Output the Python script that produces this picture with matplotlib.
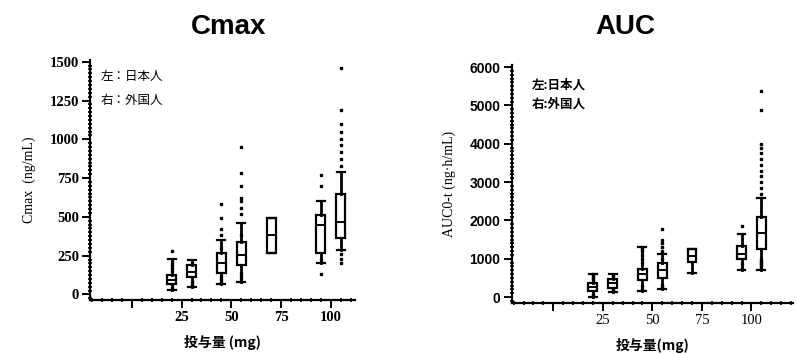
import matplotlib
matplotlib.use("Agg")
import matplotlib.pyplot as plt
from matplotlib.ticker import MultipleLocator, FixedLocator

# Dose positions (Japanese left, foreign right of each nominal dose)
doses = [20, 30, 45, 55, 70, 95, 105]
x_ticks = [0, 25, 50, 75, 100]
x_tick_labels = ["", "25", "50", "75", "100"]

# Cmax (ng/mL) box statistics
cmax_q1 = [65, 110, 140, 190, 270, 270, 365]
cmax_med = [95, 145, 205, 255, 380, 445, 470]
cmax_q3 = [125, 190, 265, 340, 490, 510, 650]
cmax_lo = [30, 50, 70, 80, 270, 200, 285]
cmax_hi = [230, 220, 350, 460, 490, 600, 790]
cmax_pts = [
    [40, 60, 150, 170, 190, 210, 280],
    [60, 80, 200],
    [80, 100, 120, 300, 380, 420, 490, 580],
    [100, 120, 140, 380, 520, 560, 600, 620, 700, 780, 950],
    [],
    [130, 220, 700, 770],
    [200, 230, 260, 830, 870, 920, 960, 1000, 1050, 1100, 1190, 1460],
]

# AUC0-t (ng.h/mL) box statistics
auc_q1 = [150, 230, 440, 510, 910, 1000, 1260]
auc_med = [260, 355, 610, 700, 1080, 1130, 1660]
auc_q3 = [380, 480, 740, 880, 1250, 1340, 2090]
auc_lo = [0, 120, 150, 220, 640, 700, 700]
auc_hi = [600, 600, 1300, 1130, 1250, 1640, 2590]
auc_pts = [
    [30, 80, 450, 500, 550, 600],
    [150, 200, 550],
    [200, 280, 900, 1000, 1100, 1200, 1250, 1300],
    [250, 320, 1000, 1200, 1300, 1400, 1500, 1780],
    [],
    [750, 850, 1850],
    [750, 800, 850, 900, 950, 1000, 2700, 2850, 3000, 3150, 3300, 3450,
     3600, 3750, 3900, 4000, 4870, 5380],
]

JP = ["Noto Sans CJK JP", "DejaVu Sans"]
SERIF = ["Liberation Serif", "Noto Sans CJK JP"]


def make_stats(q1, med, q3, lo, hi, pts):
    stats = []
    for i in range(len(q1)):
        stats.append({"q1": q1[i], "med": med[i], "q3": q3[i],
                      "whislo": lo[i], "whishi": hi[i], "fliers": pts[i]})
    return stats


def draw_panel(ax, stats, ylim, ymajor, yminor, xlim):
    ax.bxp(stats, positions=doses, widths=4.5, patch_artist=True,
           boxprops=dict(facecolor="white", edgecolor="black", linewidth=1.6),
           medianprops=dict(color="black", linewidth=1.4),
           whiskerprops=dict(color="black", linewidth=2.0),
           capprops=dict(color="black", linewidth=1.6),
           flierprops=dict(marker="s", markersize=1.8, markerfacecolor="black",
                           markeredgecolor="black", linestyle="none"),
           capwidths=4.0, manage_ticks=False)
    ax.set_xlim(*xlim)
    ax.set_ylim(*ylim)
    ax.spines["top"].set_visible(False)
    ax.spines["right"].set_visible(False)
    ax.spines["left"].set_linewidth(1.6)
    ax.spines["bottom"].set_linewidth(1.6)
    ax.xaxis.set_major_locator(FixedLocator(x_ticks))
    ax.set_xticklabels(x_tick_labels)
    ax.xaxis.set_minor_locator(MultipleLocator(5))
    ax.yaxis.set_major_locator(MultipleLocator(ymajor))
    ax.yaxis.set_minor_locator(MultipleLocator(yminor))
    ax.tick_params(axis="both", which="major", length=6, width=1.4,
                   direction="out", pad=2)
    ax.tick_params(axis="both", which="minor", length=2.5, width=1.2,
                   direction="inout")
    ax.set_facecolor("white")


fig = plt.figure(figsize=(7.97, 3.54), dpi=100)

# ---- Cmax ----
ax1 = fig.add_axes([0.113, 0.153, 0.332, 0.677])
draw_panel(ax1, make_stats(cmax_q1, cmax_med, cmax_q3, cmax_lo, cmax_hi,
                           cmax_pts),
           (-35, 1510), 250, 25, (-21, 112))
ax1.set_yticks([0, 250, 500, 750, 1000, 1250, 1500])
for lab in ax1.get_yticklabels() + ax1.get_xticklabels():
    lab.set_family(SERIF)
    lab.set_fontweight("bold")
    lab.set_fontsize(10.5)
ax1.set_ylabel("Cmax  (ng/mL)", family=SERIF, fontsize=10, labelpad=10)
ax1.set_xlabel("投与量 (mg)", family=JP, fontsize=10, fontweight="bold",
               labelpad=8)
ax1.text(0.04, 0.93, "左：日本人", transform=ax1.transAxes, family=JP,
         fontsize=9, va="center")
ax1.text(0.04, 0.83, "右：外国人", transform=ax1.transAxes, family=JP,
         fontsize=9, va="center")
fig.text(0.287, 0.925, "Cmax", ha="center", va="center", fontsize=20,
         fontweight="bold", family="Liberation Sans")

# ---- AUC ----
ax2 = fig.add_axes([0.642, 0.144, 0.353, 0.672])
draw_panel(ax2, make_stats(auc_q1, auc_med, auc_q3, auc_lo, auc_hi, auc_pts),
           (-155, 6050), 1000, 100, (-21, 121))
for lab in ax2.get_yticklabels():
    lab.set_family("Liberation Sans")
    lab.set_fontweight("bold")
    lab.set_fontsize(10)
for lab in ax2.get_xticklabels():
    lab.set_family(SERIF)
    lab.set_fontsize(10.5)
ax2.set_ylabel("AUC0-t (ng·h/mL)", family=SERIF, fontsize=10, labelpad=10)
ax2.set_xlabel("投与量(mg)", family=JP, fontsize=10, fontweight="bold",
               labelpad=8)
ax2.text(0.07, 0.915, "左:日本人", transform=ax2.transAxes, family=JP,
         fontsize=9, fontweight="bold", va="center")
ax2.text(0.07, 0.835, "右:外国人", transform=ax2.transAxes, family=JP,
         fontsize=9, fontweight="bold", va="center")
fig.text(0.785, 0.925, "AUC", ha="center", va="center", fontsize=20,
         fontweight="bold", family="Liberation Sans")

fig.savefig("out.png", dpi=100, facecolor="white")
